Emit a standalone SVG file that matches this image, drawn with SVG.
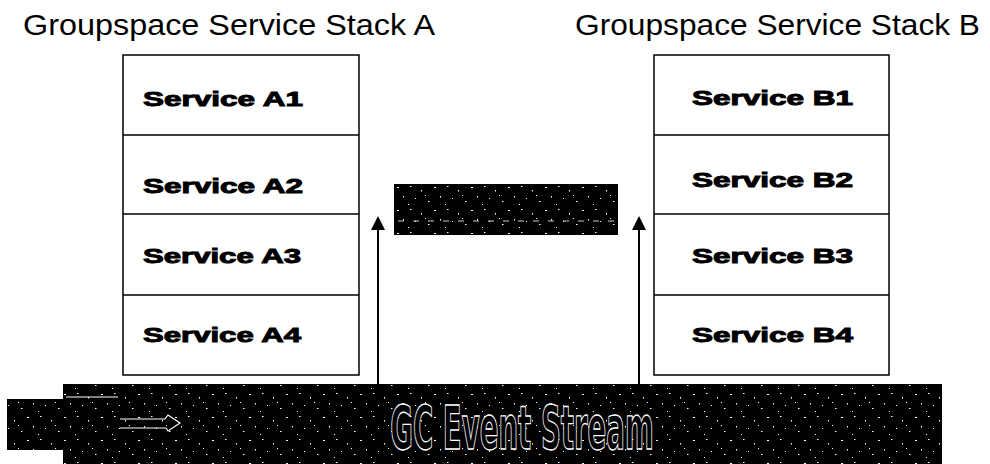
<svg xmlns="http://www.w3.org/2000/svg" width="990" height="464" viewBox="0 0 990 464">
<style>
.title{font-family:"Liberation Sans",Arial,sans-serif;font-size:29px;fill:#000}
.svc{font-family:"Liberation Sans",Arial,sans-serif;font-size:21px;font-weight:bold;fill:#000;stroke:#000;stroke-width:1}
.box{fill:#fff;stroke:#000;stroke-width:1.5}
.div{stroke:#000;stroke-width:1.5}
.conn{stroke:#000;stroke-width:2;fill:none}
.head{fill:#000}
</style>
<defs>
<pattern id="noise" width="37" height="23" patternUnits="userSpaceOnUse">
<rect width="37" height="23" fill="#000"/>
<rect x="3" y="2" width="1.5" height="1" fill="#fff"/>
<rect x="14" y="6" width="1" height="1.5" fill="#fff"/>
<rect x="27" y="3" width="2" height="1" fill="#fff"/>
<rect x="8" y="14" width="1" height="1" fill="#fff"/>
<rect x="21" y="17" width="1.5" height="1" fill="#fff"/>
<rect x="33" y="12" width="1" height="1.5" fill="#fff"/>
<rect x="18" y="11" width="1" height="1" fill="#fff"/>
<rect x="1" y="20" width="1" height="1" fill="#fff"/>
</pattern>
</defs>

<g id="title-a"><text class="title" x="23" y="35" textLength="412" lengthAdjust="spacingAndGlyphs">Groupspace Service Stack A</text></g>
<g id="title-b"><text class="title" x="575" y="35" textLength="405" lengthAdjust="spacingAndGlyphs">Groupspace Service Stack B</text></g>

<g id="stack-a">
<rect class="box" x="123" y="55" width="236" height="320"/>
<line class="div" x1="123" y1="135" x2="359" y2="135"/>
<line class="div" x1="123" y1="214" x2="359" y2="214"/>
<line class="div" x1="123" y1="295" x2="359" y2="295"/>
</g>
<g id="service-a1"><text class="svc" x="143" y="106" textLength="160" lengthAdjust="spacingAndGlyphs">Service A1</text></g>
<g id="service-a2"><text class="svc" x="143" y="193" textLength="160" lengthAdjust="spacingAndGlyphs">Service A2</text></g>
<g id="service-a3"><text class="svc" x="143" y="263" textLength="158" lengthAdjust="spacingAndGlyphs">Service A3</text></g>
<g id="service-a4"><text class="svc" x="143" y="342" textLength="158" lengthAdjust="spacingAndGlyphs">Service A4</text></g>

<g id="stack-b">
<rect class="box" x="654" y="55" width="235" height="320"/>
<line class="div" x1="654" y1="135" x2="889" y2="135"/>
<line class="div" x1="654" y1="214" x2="889" y2="214"/>
<line class="div" x1="654" y1="295" x2="889" y2="295"/>
</g>
<g id="service-b1"><text class="svc" x="692" y="105" textLength="161" lengthAdjust="spacingAndGlyphs">Service B1</text></g>
<g id="service-b2"><text class="svc" x="692" y="187" textLength="161" lengthAdjust="spacingAndGlyphs">Service B2</text></g>
<g id="service-b3"><text class="svc" x="692" y="263" textLength="161" lengthAdjust="spacingAndGlyphs">Service B3</text></g>
<g id="service-b4"><text class="svc" x="692" y="342" textLength="161" lengthAdjust="spacingAndGlyphs">Service B4</text></g>

<g id="middle-label">
<rect x="394" y="184" width="224" height="51" fill="url(#noise)"/>
<line x1="398" y1="221" x2="614" y2="221" stroke="#fff" stroke-width="1" stroke-dasharray="6 9" opacity="0.8"/>
</g>

<g id="event-stream">
<rect x="63" y="384" width="879" height="80" fill="url(#noise)"/>
<text transform="translate(522,449) scale(0.83,1.62)" x="0" y="0" text-anchor="middle" font-family="'DejaVu Sans Condensed','Liberation Sans',sans-serif" font-size="37" font-weight="bold" fill="#000" stroke="#fff" stroke-width="0.8">GC Event Stream</text>
</g>

<g id="source">
<rect x="7" y="399" width="113" height="51" fill="url(#noise)"/>
<line x1="66" y1="397" x2="118" y2="397" stroke="#fff" stroke-width="1"/>
</g>

<g id="connectors">
<line class="conn" x1="378" y1="384" x2="378" y2="226"/>
<polygon class="head" points="378,216 371,230 385,230"/>
<line class="conn" x1="639" y1="384" x2="639" y2="226"/>
<polygon class="head" points="639,216 632,230 646,230"/>
<path d="M120,419 L165,419 L168,415 L180,423 L168,431 L166,428 L120,428" fill="none" stroke="#fff" stroke-width="1.2"/>
</g>
</svg>
